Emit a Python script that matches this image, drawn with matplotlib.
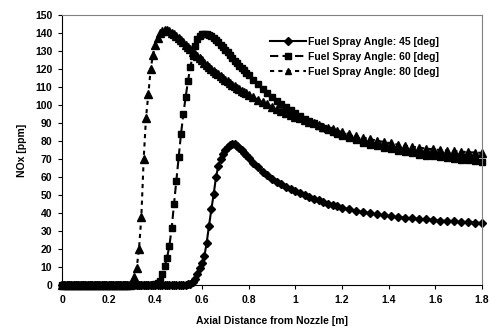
import matplotlib
matplotlib.use("Agg")
import matplotlib.pyplot as plt
import numpy as np

# Axial positions [m] (grid is finer near the nozzle)
x_fine = np.round(np.arange(0.0, 0.805, 0.01), 2)
x_mid = np.round(np.arange(0.82, 1.205, 0.02), 2)
x_far = np.round(np.arange(1.23, 1.805, 0.03), 2)
axial = np.concatenate([x_fine, x_mid, x_far])

# NOx [ppm]
nox_45 = ([0.0] * 54 +
          [0.3, 0.8, 1.8, 3.5, 6, 9.3, 12, 16, 23.5, 33, 42, 50.5, 60, 66,
           70, 72.8, 75.2, 76.8, 77.8, 78.3, 78.2, 77.5, 76.3, 75, 73.5, 72, 70.5] +
          [68, 65.5, 63, 61, 59, 57.5, 56, 54.5, 53.2, 52, 51, 50, 49, 48, 47,
           46, 45.2, 44.5, 43.8, 43] +
          [42, 41.2, 40.5, 39.8, 39.2, 38.7, 38.2, 37.8, 37.4, 37, 36.7, 36.4,
           36.1, 35.8, 35.6, 35.3, 35.1, 34.9, 34.7, 34.5])

nox_60 = ([0.0] * 39 +
          [0.2, 0.5, 1.2, 2.5, 6, 10.5, 15, 21.7, 31.5, 45, 58, 71, 84, 95,
           104.5, 113.5, 121, 127.5, 133, 136.8, 138.6, 139.3, 139.6, 139.5,
           139, 138.3, 137.3, 136.2, 135, 133.6, 132.2, 130.7, 129.2, 127.7,
           126.2, 124.7, 123.3, 121.9, 120.5, 119.2, 117.9, 116.6] +
          [114, 111.5, 109, 106.7, 104.5, 102.5, 100.6, 98.8, 97.1, 95.5, 94,
           92.5, 91.1, 89.8, 88.5, 87.3, 86.1, 85, 84, 83] +
          [81.6, 80.3, 79.1, 78, 77, 76.1, 75.3, 74.5, 73.8, 73.1, 72.5, 71.9,
           71.4, 70.9, 70.4, 70, 69.6, 69.2, 68.8, 68.5])

nox_80 = ([0.0] * 30 +
          [1, 4.5, 9.5, 20, 38, 70, 93, 106, 120, 128, 133.5, 137.5, 140,
           141.3, 141.8, 141.5, 141, 140.2, 139.3, 138.3, 137.2, 136, 134.8,
           133.6, 132.3, 131, 129.7, 128.5, 127.2, 126, 124.8, 123.6, 122.4,
           121.3, 120.2, 119.1, 118, 117, 116, 115, 114, 113.1, 112.2, 111.3,
           110.4, 109.6, 108.8, 108, 107.2, 106.4, 105.7] +
          [104.3, 102.9, 101.6, 100.3, 99.1, 97.9, 96.8, 95.7, 94.6, 93.6, 92.6,
           91.6, 90.7, 89.8, 88.9, 88, 87.2, 86.4, 85.6, 84.9] +
          [83.8, 82.8, 81.9, 81, 80.2, 79.4, 78.7, 78, 77.4, 76.8, 76.3, 75.8,
           75.4, 75, 74.7, 74.4, 74.1, 73.8, 73.6, 73.4])

labels = ["Fuel Spray Angle: 45 [deg]",
          "Fuel Spray Angle: 60 [deg]",
          "Fuel Spray Angle: 80 [deg]"]

x_ticks = [0, 0.2, 0.4, 0.6, 0.8, 1.0, 1.2, 1.4, 1.6, 1.8]
x_tick_labels = ["0", "0.2", "0.4", "0.6", "0.8", "1", "1.2", "1.4", "1.6", "1.8"]
y_ticks = list(range(0, 151, 10))


def main():
    plt.rcParams["font.family"] = ["Liberation Sans", "DejaVu Sans"]
    plt.rcParams["font.weight"] = "bold"

    fig = plt.figure(figsize=(4.91, 3.29), dpi=100)
    ax = fig.add_axes([0.1263, 0.1337, 0.8554, 0.8207])

    # Markers sit on the axis at zero, so let them spill over it
    ax.plot(axial, nox_45, color="black", linestyle="-", linewidth=1.5,
            marker="D", markersize=4.3, label=labels[0], clip_on=False)
    ax.plot(axial, nox_60, color="black", linestyle=(0, (4, 2)), linewidth=1.5,
            marker="s", markersize=4.5, label=labels[1], clip_on=False)
    ax.plot(axial, nox_80, color="black", linestyle=(0, (2, 2)), linewidth=1.5,
            marker="^", markersize=5.2, label=labels[2], clip_on=False)

    ax.set_xlim(0, 1.8)
    ax.set_ylim(0, 150)
    ax.set_xticks(x_ticks)
    ax.set_xticklabels(x_tick_labels)
    ax.set_yticks(y_ticks)
    ax.tick_params(direction="out", length=3, width=0.8, labelsize=7.5, pad=4)

    for side in ["top", "right"]:
        ax.spines[side].set_color("#808080")
    for side in ["left", "bottom"]:
        ax.spines[side].set_color("black")

    ax.set_xlabel("Axial Distance from Nozzle [m]", fontsize=7.5, fontweight="bold", labelpad=8)
    ax.set_ylabel("NOx [ppm]", fontsize=7.5, fontweight="bold", labelpad=6)

    leg = ax.legend(loc="upper right", bbox_to_anchor=(0.92, 0.955), frameon=False,
                    fontsize=7.5, handlelength=3.4, labelspacing=0.5, handletextpad=0.2,
                    markerscale=0.85)
    for t in leg.get_texts():
        t.set_fontweight("bold")

    fig.savefig("out.png", dpi=100)


if __name__ == "__main__":
    main()
